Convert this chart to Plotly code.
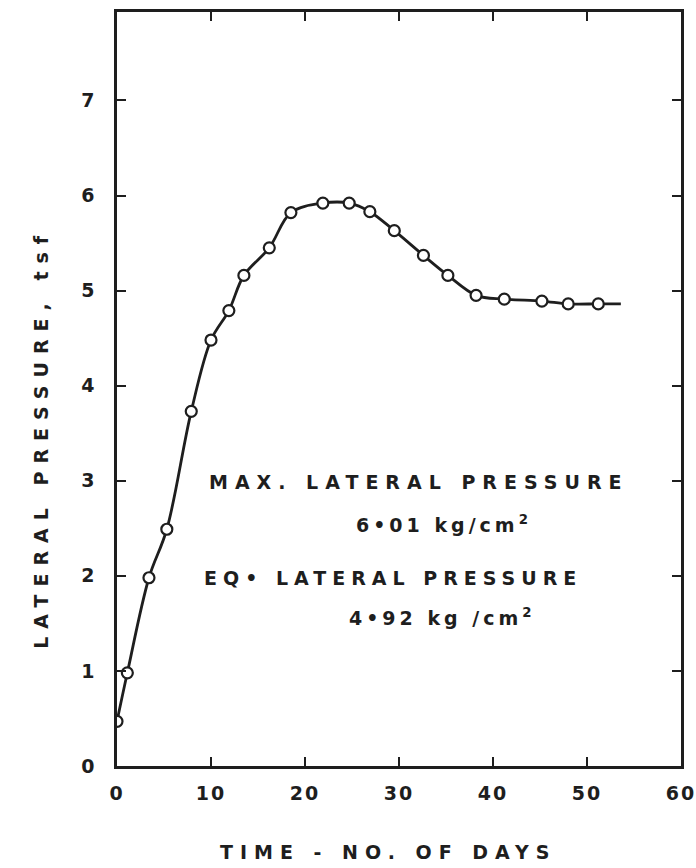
import plotly.graph_objects as go

# ---- data ----
days = [0, 1.1, 3.4, 5.3, 7.9, 10.0, 11.9, 13.5, 16.2, 18.5, 21.9, 24.7,
        26.9, 29.5, 32.6, 35.2, 38.2, 41.2, 45.2, 48.0, 51.2]
pressure = [0.47, 0.98, 1.98, 2.49, 3.73, 4.48, 4.79, 5.16, 5.45, 5.82, 5.92, 5.92,
            5.83, 5.63, 5.37, 5.16, 4.95, 4.91, 4.89, 4.86, 4.86]
curve_end_day = [53.6]
curve_end_pressure = [4.86]

x_ticks = [0, 10, 20, 30, 40, 50, 60]
x_ticktext = ["0", "10", "20", "30", "40", "50", "60"]
y_ticks = [0, 1, 2, 3, 4, 5, 6, 7]
y_ticktext = ["0", "1", "2", "3", "4", "5", "6", "7"]

x_title = "TIME - NO. OF DAYS"
y_title = "LATERAL PRESSURE, tsf"
notes = [
    ("MAX. LATERAL PRESSURE", 9.6, 2.99, 7),
    ("6•01 kg/cm<sup>2</sup>", 25.2, 2.54, 4),
    ("EQ• LATERAL PRESSURE", 9.0, 1.98, 6),
    ("4•92 kg /cm<sup>2</sup>", 24.5, 1.57, 4),
]

INK = "#1e1e1e"
FONT = "DejaVu Sans"


def spaced(txt, px):
    return f'<span style="letter-spacing:{px}px">{txt}</span>'


fig = go.Figure()
fig.add_trace(go.Scatter(
    x=days + curve_end_day, y=pressure + curve_end_pressure,
    mode="lines", line=dict(color=INK, width=2.8, shape="spline", smoothing=1.0),
    hoverinfo="skip", showlegend=False))
fig.add_trace(go.Scatter(
    x=days, y=pressure, mode="markers",
    marker=dict(symbol="circle", size=11, color="white",
                line=dict(color=INK, width=2.2)),
    showlegend=False))

for txt, xx, yy, sp in notes:
    fig.add_annotation(x=xx, y=yy, xref="x", yref="y", text=spaced(txt, sp),
                       showarrow=False, xanchor="left", yanchor="middle",
                       font=dict(family=FONT, size=19, color=INK, weight="bold"))

fig.add_annotation(x=0.48, y=-0.114, xref="paper", yref="paper",
                   text=spaced(x_title, 7), showarrow=False,
                   xanchor="center", yanchor="middle",
                   font=dict(family=FONT, size=19, color=INK, weight="bold"))
fig.add_annotation(x=-0.135, y=0.435, xref="paper", yref="paper",
                   text=spaced(y_title, 8), showarrow=False, textangle=-90,
                   xanchor="center", yanchor="middle",
                   font=dict(family=FONT, size=19, color=INK, weight="bold"))

axis_common = dict(showgrid=False, zeroline=False, showline=True, linecolor=INK,
                   linewidth=2.5, mirror="ticks", ticks="inside", ticklen=9,
                   tickwidth=2.2, tickcolor=INK, ticklabeloverflow="allow",
                   automargin=False,
                   tickfont=dict(family=FONT, size=19, color=INK, weight="bold"))

fig.update_xaxes(range=[0, 60], tickmode="array", tickvals=x_ticks,
                 ticktext=[spaced(t, 2) for t in x_ticktext],
                 ticklabelstandoff=8, **axis_common)
fig.update_yaxes(range=[0, 7.93], tickmode="array", tickvals=y_ticks,
                 ticktext=y_ticktext, ticklabelstandoff=16, **axis_common)

fig.update_layout(width=696, height=868, plot_bgcolor="white", paper_bgcolor="white",
                  margin=dict(l=117, r=15, t=12, b=102), showlegend=False)

fig.write_html("out.html")
